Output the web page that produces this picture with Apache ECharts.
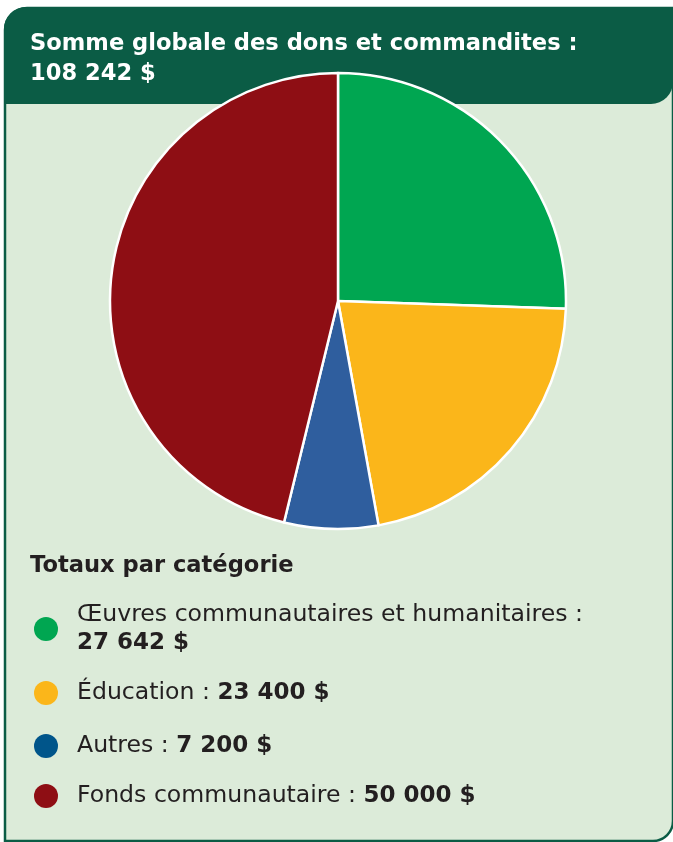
<!DOCTYPE html>
<html>
<head>
<meta charset="utf-8">
<script src="https://cdn.jsdelivr.net/npm/echarts@6/dist/echarts.min.js"></script>
<style>
  html, body { margin: 0; padding: 0; background: #fff; }
  #chart { width: 673px; height: 842px; }
</style>
</head>
<body>
<div id="chart"></div>
<script>
// données du graphique
const categories = ['Œuvres communautaires et humanitaires', 'Éducation', 'Autres', 'Fonds communautaire'];
const amounts = [27642, 23400, 7200, 50000];
const sliceColors = ['#00a651', '#fbb61a', '#2f5e9e', '#8e0e14'];
const legendColors = ['#00a651', '#fbb61a', '#00558a', '#8e0e14'];

const headerTitle = 'Somme globale des dons et commandites :';
const legendTitle = 'Totaux par catégorie';

const FONT = 'DejaVu Sans';
const DARK = '#0b5c45';
const INK = '#231f20';

// 27642 -> "27 642 $"
const fmt = (n) => String(n).replace(/\B(?=(\d{3})+(?!\d))/g, ' ') + ' $';
const total = amounts.reduce((a, b) => a + b, 0);

// centre vertical de chaque entrée de légende
const legendCenters = [631, 695, 748, 798];
const LINE_H = 28;

const chart = echarts.init(document.getElementById('chart'), null, { renderer: 'canvas' });

const legends = categories.map((name, i) => {
  const twoLines = name.length > 25;
  const h = twoLines ? LINE_H * 2 : LINE_H;
  return {
    data: [{ name: name, itemStyle: { color: legendColors[i], borderWidth: 0 } }],
    left: 34,
    top: legendCenters[i] - h / 2,
    padding: 0,
    icon: 'circle',
    itemWidth: 52,
    itemHeight: 24,
    selectedMode: false,
    formatter: (n) => {
      const idx = categories.indexOf(n);
      return '{n|' + n + ' :}' + (twoLines ? '\n' : '{n| }') + '{b|' + fmt(amounts[idx]) + '}';
    },
    textStyle: {
      rich: {
        n: { fontFamily: FONT, fontSize: 23.6, color: INK, lineHeight: LINE_H },
        b: { fontFamily: FONT, fontSize: 23, fontWeight: 'bold', color: INK, lineHeight: LINE_H }
      }
    }
  };
});

const option = {
  animation: false,
  backgroundColor: '#ffffff',
  graphic: [
    {
      type: 'rect',
      z: 0,
      shape: { x: 5, y: 8, width: 668, height: 833, r: [22, 0, 20, 0] },
      style: { fill: '#dcebd9', stroke: DARK, lineWidth: 2.5 }
    },
    {
      type: 'rect',
      z: 1,
      shape: { x: 4, y: 7, width: 669, height: 97, r: [22, 0, 22, 0] },
      style: { fill: DARK }
    }
  ],
  title: [
    {
      text: headerTitle + '\n' + fmt(total),
      left: 30,
      top: 29,
      padding: 0,
      textStyle: { fontFamily: FONT, fontSize: 22.6, fontWeight: 'bold', color: '#ffffff', lineHeight: 30 }
    },
    {
      text: legendTitle,
      left: 30,
      top: 553,
      padding: 0,
      textStyle: { fontFamily: FONT, fontSize: 22.6, fontWeight: 'bold', color: INK, lineHeight: 26 }
    }
  ],
  legend: legends,
  series: [
    {
      type: 'pie',
      z: 5,
      center: [338, 301],
      radius: [0, 228],
      startAngle: 90,
      clockwise: true,
      label: { show: false },
      labelLine: { show: false },
      emphasis: { disabled: true },
      itemStyle: { borderColor: '#ffffff', borderWidth: 2.5 },
      data: categories.map((name, i) => ({
        name: name,
        value: amounts[i],
        itemStyle: { color: sliceColors[i] }
      }))
    }
  ]
};

chart.setOption(option);
</script>
</body>
</html>
